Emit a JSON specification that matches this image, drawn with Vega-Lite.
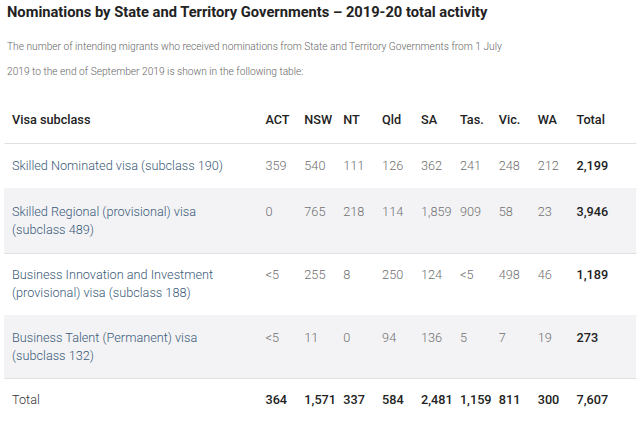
{
  "$schema": "https://vega.github.io/schema/vega-lite/v6.json",
  "background": "white",
  "padding": {"left": 4, "right": 4, "top": 5, "bottom": 0},
  "spacing": 0,
  "title": {
    "text": "Nominations by State and Territory Governments – 2019-20 total activity",
    "subtitle": ["The number of intending migrants who received nominations from State and Territory Governments from 1 July", "2019 to the end of September 2019 is shown in the following table:"],
    "anchor": "start",
    "frame": "group",
    "dx": 3,
    "font": "Roboto",
    "fontSize": 14.7,
    "fontWeight": "bold",
    "color": "#222222",
    "subtitleFont": "Roboto",
    "subtitleFontSize": 10.2,
    "subtitleFontWeight": 300,
    "subtitleColor": "#666666",
    "subtitleLineHeight": 25,
    "subtitlePadding": 22,
    "offset": 20
  },
  "data": {
    "values": [
      {"row": "header", "col": "label", "line": 1, "text": "Visa subclass"},
      {"row": "header", "col": "ACT", "line": 1, "text": "ACT"},
      {"row": "header", "col": "NSW", "line": 1, "text": "NSW"},
      {"row": "header", "col": "NT", "line": 1, "text": "NT"},
      {"row": "header", "col": "Qld", "line": 1, "text": "Qld"},
      {"row": "header", "col": "SA", "line": 1, "text": "SA"},
      {"row": "header", "col": "Tas.", "line": 1, "text": "Tas."},
      {"row": "header", "col": "Vic.", "line": 1, "text": "Vic."},
      {"row": "header", "col": "WA", "line": 1, "text": "WA"},
      {"row": "header", "col": "Total", "line": 1, "text": "Total"},

      {"row": "r1", "col": "label", "line": 1, "text": "Skilled Nominated visa (subclass 190)"},
      {"row": "r1", "col": "ACT", "line": 1, "text": "359"},
      {"row": "r1", "col": "NSW", "line": 1, "text": "540"},
      {"row": "r1", "col": "NT", "line": 1, "text": "111"},
      {"row": "r1", "col": "Qld", "line": 1, "text": "126"},
      {"row": "r1", "col": "SA", "line": 1, "text": "362"},
      {"row": "r1", "col": "Tas.", "line": 1, "text": "241"},
      {"row": "r1", "col": "Vic.", "line": 1, "text": "248"},
      {"row": "r1", "col": "WA", "line": 1, "text": "212"},
      {"row": "r1", "col": "Total", "line": 1, "text": "2,199"},

      {"row": "r2", "col": "label", "line": 1, "text": "Skilled Regional (provisional) visa"},
      {"row": "r2", "col": "label", "line": 2, "text": "(subclass 489)"},
      {"row": "r2", "col": "ACT", "line": 1, "text": "0"},
      {"row": "r2", "col": "NSW", "line": 1, "text": "765"},
      {"row": "r2", "col": "NT", "line": 1, "text": "218"},
      {"row": "r2", "col": "Qld", "line": 1, "text": "114"},
      {"row": "r2", "col": "SA", "line": 1, "text": "1,859"},
      {"row": "r2", "col": "Tas.", "line": 1, "text": "909"},
      {"row": "r2", "col": "Vic.", "line": 1, "text": "58"},
      {"row": "r2", "col": "WA", "line": 1, "text": "23"},
      {"row": "r2", "col": "Total", "line": 1, "text": "3,946"},

      {"row": "r3", "col": "label", "line": 1, "text": "Business Innovation and Investment"},
      {"row": "r3", "col": "label", "line": 2, "text": "(provisional) visa (subclass 188)"},
      {"row": "r3", "col": "ACT", "line": 1, "text": "<5"},
      {"row": "r3", "col": "NSW", "line": 1, "text": "255"},
      {"row": "r3", "col": "NT", "line": 1, "text": "8"},
      {"row": "r3", "col": "Qld", "line": 1, "text": "250"},
      {"row": "r3", "col": "SA", "line": 1, "text": "124"},
      {"row": "r3", "col": "Tas.", "line": 1, "text": "<5"},
      {"row": "r3", "col": "Vic.", "line": 1, "text": "498"},
      {"row": "r3", "col": "WA", "line": 1, "text": "46"},
      {"row": "r3", "col": "Total", "line": 1, "text": "1,189"},

      {"row": "r4", "col": "label", "line": 1, "text": "Business Talent (Permanent) visa"},
      {"row": "r4", "col": "label", "line": 2, "text": "(subclass 132)"},
      {"row": "r4", "col": "ACT", "line": 1, "text": "<5"},
      {"row": "r4", "col": "NSW", "line": 1, "text": "11"},
      {"row": "r4", "col": "NT", "line": 1, "text": "0"},
      {"row": "r4", "col": "Qld", "line": 1, "text": "94"},
      {"row": "r4", "col": "SA", "line": 1, "text": "136"},
      {"row": "r4", "col": "Tas.", "line": 1, "text": "5"},
      {"row": "r4", "col": "Vic.", "line": 1, "text": "7"},
      {"row": "r4", "col": "WA", "line": 1, "text": "19"},
      {"row": "r4", "col": "Total", "line": 1, "text": "273"},

      {"row": "total", "col": "label", "line": 1, "text": "Total"},
      {"row": "total", "col": "ACT", "line": 1, "text": "364"},
      {"row": "total", "col": "NSW", "line": 1, "text": "1,571"},
      {"row": "total", "col": "NT", "line": 1, "text": "337"},
      {"row": "total", "col": "Qld", "line": 1, "text": "584"},
      {"row": "total", "col": "SA", "line": 1, "text": "2,481"},
      {"row": "total", "col": "Tas.", "line": 1, "text": "1,159"},
      {"row": "total", "col": "Vic.", "line": 1, "text": "811"},
      {"row": "total", "col": "WA", "line": 1, "text": "300"},
      {"row": "total", "col": "Total", "line": 1, "text": "7,607"}
    ]
  },
  "vconcat": [
    {
      "width": 632, "height": 46,
      "view": {"stroke": null},
      "transform": [{"filter": "datum.row === 'header'"}],
      "resolve": {"scale": {"x": "independent"}},
      "layer": [
        {
          "transform": [{"filter": "datum.col === 'label'"}],
          "mark": {"type": "text", "align": "left", "dx": 8, "font": "Roboto", "fontSize": 12.7, "fontWeight": 500, "color": "#222222"},
          "encoding": {
            "x": {"field": "col", "type": "nominal", "scale": {"type": "band", "paddingInner": 0, "paddingOuter": 0}, "bandPosition": 0,
                  "axis": {"orient": "bottom", "domain": true, "domainColor": "#e0e0e0", "domainWidth": 1, "ticks": false, "labels": false, "title": null, "grid": false}},
            "y": {"field": "line", "type": "ordinal", "scale": {"type": "point"}, "axis": null},
            "text": {"field": "text"}
          }
        },
        {
          "transform": [{"filter": "datum.col !== 'label'"}],
          "mark": {"type": "text", "align": "left", "font": "Roboto", "fontSize": 12.7, "fontWeight": 500, "color": "#222222"},
          "encoding": {
            "x": {"field": "col", "type": "nominal", "scale": {"type": "point", "domain": ["ACT", "NSW", "NT", "Qld", "SA", "Tas.", "Vic.", "WA", "Total"], "range": [242, 592]}, "axis": null},
            "y": {"field": "line", "type": "ordinal", "scale": {"type": "point"}, "axis": null},
            "text": {"field": "text"}
          }
        }
      ]
    },
    {
      "width": 632, "height": 45,
      "view": {"stroke": null},
      "transform": [{"filter": "datum.row === 'r1'"}],
      "resolve": {"scale": {"x": "independent"}},
      "layer": [
        {
          "transform": [{"filter": "datum.col === 'label'"}],
          "mark": {"type": "text", "align": "left", "dx": 8, "font": "Roboto", "fontSize": 12.7, "fontWeight": 300, "color": "#3a5a78"},
          "encoding": {
            "x": {"field": "col", "type": "nominal", "scale": {"type": "band", "paddingInner": 0, "paddingOuter": 0}, "bandPosition": 0,
                  "axis": {"orient": "bottom", "domain": true, "domainColor": "#e0e0e0", "domainWidth": 1, "ticks": false, "labels": false, "title": null, "grid": false}},
            "y": {"field": "line", "type": "ordinal", "scale": {"type": "point"}, "axis": null},
            "text": {"field": "text"}
          }
        },
        {
          "transform": [{"filter": "datum.col !== 'label' && datum.col !== 'Total'"}],
          "mark": {"type": "text", "align": "left", "font": "Roboto", "fontSize": 12.7, "fontWeight": 300, "color": "#707070"},
          "encoding": {
            "x": {"field": "col", "type": "nominal", "scale": {"type": "point", "domain": ["ACT", "NSW", "NT", "Qld", "SA", "Tas.", "Vic.", "WA", "Total"], "range": [242, 592]}, "axis": null},
            "y": {"field": "line", "type": "ordinal", "scale": {"type": "point"}, "axis": null},
            "text": {"field": "text"}
          }
        },
        {
          "transform": [{"filter": "datum.col === 'Total'"}],
          "mark": {"type": "text", "align": "left", "font": "Roboto", "fontSize": 12.7, "fontWeight": 500, "color": "#222222"},
          "encoding": {
            "x": {"field": "col", "type": "nominal", "scale": {"type": "point", "domain": ["ACT", "NSW", "NT", "Qld", "SA", "Tas.", "Vic.", "WA", "Total"], "range": [242, 592]}, "axis": null},
            "y": {"field": "line", "type": "ordinal", "scale": {"type": "point"}, "axis": null},
            "text": {"field": "text"}
          }
        }
      ]
    },
    {
      "width": 632, "height": 65,
      "view": {"stroke": null, "fill": "#f3f3f5"},
      "transform": [{"filter": "datum.row === 'r2'"}],
      "resolve": {"scale": {"x": "independent"}},
      "layer": [
        {
          "transform": [{"filter": "datum.col === 'label'"}],
          "mark": {"type": "text", "align": "left", "dx": 8, "font": "Roboto", "fontSize": 12.7, "fontWeight": 300, "color": "#3a5a78"},
          "encoding": {
            "x": {"field": "col", "type": "nominal", "scale": {"type": "band", "paddingInner": 0, "paddingOuter": 0}, "bandPosition": 0,
                  "axis": {"orient": "bottom", "domain": true, "domainColor": "#e0e0e0", "domainWidth": 1, "ticks": false, "labels": false, "title": null, "grid": false}},
            "y": {"field": "line", "type": "ordinal", "scale": {"type": "point", "padding": 0, "range": [24, 42]}, "axis": null},
            "text": {"field": "text"}
          }
        },
        {
          "transform": [{"filter": "datum.col !== 'label' && datum.col !== 'Total'"}],
          "mark": {"type": "text", "align": "left", "font": "Roboto", "fontSize": 12.7, "fontWeight": 300, "color": "#707070"},
          "encoding": {
            "x": {"field": "col", "type": "nominal", "scale": {"type": "point", "domain": ["ACT", "NSW", "NT", "Qld", "SA", "Tas.", "Vic.", "WA", "Total"], "range": [242, 592]}, "axis": null},
            "y": {"field": "line", "type": "ordinal", "scale": {"type": "point", "padding": 0, "range": [24, 42]}, "axis": null},
            "text": {"field": "text"}
          }
        },
        {
          "transform": [{"filter": "datum.col === 'Total'"}],
          "mark": {"type": "text", "align": "left", "font": "Roboto", "fontSize": 12.7, "fontWeight": 500, "color": "#222222"},
          "encoding": {
            "x": {"field": "col", "type": "nominal", "scale": {"type": "point", "domain": ["ACT", "NSW", "NT", "Qld", "SA", "Tas.", "Vic.", "WA", "Total"], "range": [242, 592]}, "axis": null},
            "y": {"field": "line", "type": "ordinal", "scale": {"type": "point", "padding": 0, "range": [24, 42]}, "axis": null},
            "text": {"field": "text"}
          }
        }
      ]
    },
    {
      "width": 632, "height": 62,
      "view": {"stroke": null},
      "transform": [{"filter": "datum.row === 'r3'"}],
      "resolve": {"scale": {"x": "independent"}},
      "layer": [
        {
          "transform": [{"filter": "datum.col === 'label'"}],
          "mark": {"type": "text", "align": "left", "dx": 8, "font": "Roboto", "fontSize": 12.7, "fontWeight": 300, "color": "#3a5a78"},
          "encoding": {
            "x": {"field": "col", "type": "nominal", "scale": {"type": "band", "paddingInner": 0, "paddingOuter": 0}, "bandPosition": 0,
                  "axis": {"orient": "bottom", "domain": true, "domainColor": "#e0e0e0", "domainWidth": 1, "ticks": false, "labels": false, "title": null, "grid": false}},
            "y": {"field": "line", "type": "ordinal", "scale": {"type": "point", "padding": 0, "range": [22, 40]}, "axis": null},
            "text": {"field": "text"}
          }
        },
        {
          "transform": [{"filter": "datum.col !== 'label' && datum.col !== 'Total'"}],
          "mark": {"type": "text", "align": "left", "font": "Roboto", "fontSize": 12.7, "fontWeight": 300, "color": "#707070"},
          "encoding": {
            "x": {"field": "col", "type": "nominal", "scale": {"type": "point", "domain": ["ACT", "NSW", "NT", "Qld", "SA", "Tas.", "Vic.", "WA", "Total"], "range": [242, 592]}, "axis": null},
            "y": {"field": "line", "type": "ordinal", "scale": {"type": "point", "padding": 0, "range": [22, 40]}, "axis": null},
            "text": {"field": "text"}
          }
        },
        {
          "transform": [{"filter": "datum.col === 'Total'"}],
          "mark": {"type": "text", "align": "left", "font": "Roboto", "fontSize": 12.7, "fontWeight": 500, "color": "#222222"},
          "encoding": {
            "x": {"field": "col", "type": "nominal", "scale": {"type": "point", "domain": ["ACT", "NSW", "NT", "Qld", "SA", "Tas.", "Vic.", "WA", "Total"], "range": [242, 592]}, "axis": null},
            "y": {"field": "line", "type": "ordinal", "scale": {"type": "point", "padding": 0, "range": [22, 40]}, "axis": null},
            "text": {"field": "text"}
          }
        }
      ]
    },
    {
      "width": 632, "height": 63,
      "view": {"stroke": null, "fill": "#f3f3f5"},
      "transform": [{"filter": "datum.row === 'r4'"}],
      "resolve": {"scale": {"x": "independent"}},
      "layer": [
        {
          "transform": [{"filter": "datum.col === 'label'"}],
          "mark": {"type": "text", "align": "left", "dx": 8, "font": "Roboto", "fontSize": 12.7, "fontWeight": 300, "color": "#3a5a78"},
          "encoding": {
            "x": {"field": "col", "type": "nominal", "scale": {"type": "band", "paddingInner": 0, "paddingOuter": 0}, "bandPosition": 0,
                  "axis": {"orient": "bottom", "domain": true, "domainColor": "#e0e0e0", "domainWidth": 1, "ticks": false, "labels": false, "title": null, "grid": false}},
            "y": {"field": "line", "type": "ordinal", "scale": {"type": "point", "padding": 0, "range": [23, 41]}, "axis": null},
            "text": {"field": "text"}
          }
        },
        {
          "transform": [{"filter": "datum.col !== 'label' && datum.col !== 'Total'"}],
          "mark": {"type": "text", "align": "left", "font": "Roboto", "fontSize": 12.7, "fontWeight": 300, "color": "#707070"},
          "encoding": {
            "x": {"field": "col", "type": "nominal", "scale": {"type": "point", "domain": ["ACT", "NSW", "NT", "Qld", "SA", "Tas.", "Vic.", "WA", "Total"], "range": [242, 592]}, "axis": null},
            "y": {"field": "line", "type": "ordinal", "scale": {"type": "point", "padding": 0, "range": [23, 41]}, "axis": null},
            "text": {"field": "text"}
          }
        },
        {
          "transform": [{"filter": "datum.col === 'Total'"}],
          "mark": {"type": "text", "align": "left", "font": "Roboto", "fontSize": 12.7, "fontWeight": 500, "color": "#222222"},
          "encoding": {
            "x": {"field": "col", "type": "nominal", "scale": {"type": "point", "domain": ["ACT", "NSW", "NT", "Qld", "SA", "Tas.", "Vic.", "WA", "Total"], "range": [242, 592]}, "axis": null},
            "y": {"field": "line", "type": "ordinal", "scale": {"type": "point", "padding": 0, "range": [23, 41]}, "axis": null},
            "text": {"field": "text"}
          }
        }
      ]
    },
    {
      "width": 632, "height": 44,
      "view": {"stroke": null},
      "transform": [{"filter": "datum.row === 'total'"}],
      "resolve": {"scale": {"x": "independent"}},
      "layer": [
        {
          "transform": [{"filter": "datum.col === 'label'"}],
          "mark": {"type": "text", "align": "left", "dx": 8, "font": "Roboto", "fontSize": 12.7, "fontWeight": 300, "color": "#333333"},
          "encoding": {
            "x": {"field": "col", "type": "nominal", "scale": {"type": "band", "paddingInner": 0, "paddingOuter": 0}, "bandPosition": 0,
                  "axis": {"orient": "bottom", "domain": true, "domainColor": "#e0e0e0", "domainWidth": 1, "ticks": false, "labels": false, "title": null, "grid": false}},
            "y": {"field": "line", "type": "ordinal", "scale": {"type": "point"}, "axis": null},
            "text": {"field": "text"}
          }
        },
        {
          "transform": [{"filter": "datum.col !== 'label'"}],
          "mark": {"type": "text", "align": "left", "font": "Roboto", "fontSize": 12.7, "fontWeight": 500, "color": "#222222"},
          "encoding": {
            "x": {"field": "col", "type": "nominal", "scale": {"type": "point", "domain": ["ACT", "NSW", "NT", "Qld", "SA", "Tas.", "Vic.", "WA", "Total"], "range": [242, 592]}, "axis": null},
            "y": {"field": "line", "type": "ordinal", "scale": {"type": "point"}, "axis": null},
            "text": {"field": "text"}
          }
        }
      ]
    }
  ],
  "config": {"view": {"stroke": null}}
}
